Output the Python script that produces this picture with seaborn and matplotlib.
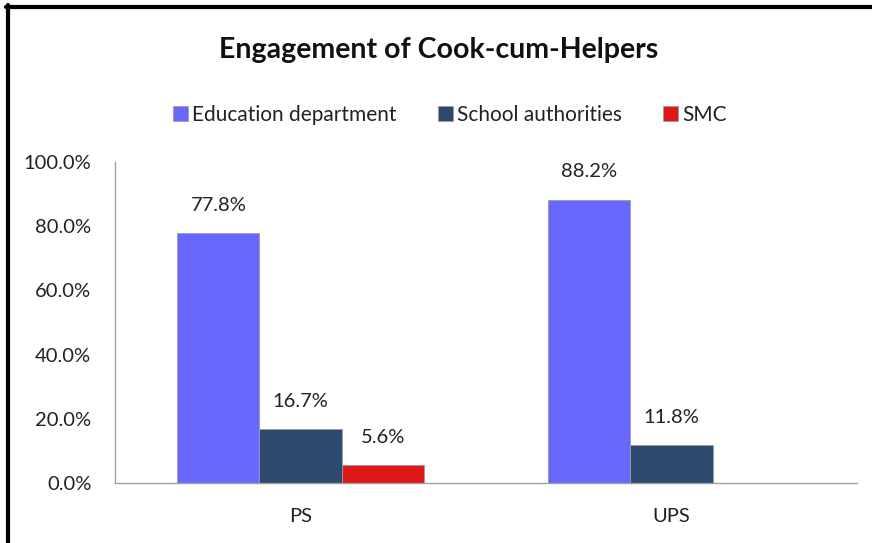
import numpy as np
import pandas as pd
import matplotlib
matplotlib.use("Agg")
import matplotlib.pyplot as plt
from matplotlib.lines import Line2D
import seaborn as sns

# data
schools = ["PS", "PS", "PS", "UPS", "UPS"]
engaged_by = ["Education department", "School authorities", "SMC",
              "Education department", "School authorities"]
share = [0.778, 0.167, 0.056, 0.882, 0.118]
hue_levels = ["Education department", "School authorities", "SMC"]
bar_colors = ["#6868FF", "#2C4A6E", "#E01818"]
yticks = [0.0, 0.2, 0.4, 0.6, 0.8, 1.0]

df = pd.DataFrame({"school": schools, "by": engaged_by, "share": share})

sns.set_theme(style="white")
plt.rcParams["font.family"] = ["Lato", "DejaVu Sans"]

fig = plt.figure(figsize=(8.72, 5.43), dpi=100)
ax = fig.add_axes([115 / 872, 1 - 483 / 543, (857 - 115) / 872, (483 - 162) / 543])

sns.barplot(data=df, x="school", y="share", hue="by", hue_order=hue_levels,
            palette=bar_colors, width=0.664, saturation=1, ax=ax,
            edgecolor="#9a9ab0", linewidth=0.6)

for cont in ax.containers:
    labels = [f"{v * 100:.1f}%" for v in cont.datavalues]
    ax.bar_label(cont, labels=labels, padding=14, fontsize=14.5, color="#222222")

ax.set_xlim(-0.5, 1.5)
ax.set_ylim(0, 1)
ax.set_yticks(yticks)
ax.set_yticklabels([f"{t * 100:.1f}%" for t in yticks], fontsize=14.5, color="#222222")
ax.tick_params(axis="x", labelsize=14.5, colors="#222222", pad=18, length=0)
ax.tick_params(axis="y", pad=17, length=0)
ax.set_xlabel("")
ax.set_ylabel("")
for s in ["top", "right"]:
    ax.spines[s].set_visible(False)
for s in ["left", "bottom"]:
    ax.spines[s].set_color("#a0a0a0")
    ax.spines[s].set_linewidth(1.0)

ax.legend(loc="center", bbox_to_anchor=(450 / 872, 1 - 115 / 543),
          bbox_transform=fig.transFigure, ncol=3, frameon=False,
          fontsize=15, handlelength=0.7, handleheight=0.7, handletextpad=0.2,
          columnspacing=2.0, labelcolor="#222222")

fig.text(439 / 872, 1 - 50 / 543, "Engagement of Cook-cum-Helpers",
         ha="center", va="center", fontsize=20.5, fontweight="bold", color="#111111")

# black frame on top and left edge
fig.add_artist(Line2D([8 / 872, 8 / 872], [0, 1 - 5 / 543], transform=fig.transFigure,
                      color="black", linewidth=3))
fig.add_artist(Line2D([6 / 872, 1], [1 - 7 / 543, 1 - 7 / 543], transform=fig.transFigure,
                      color="black", linewidth=3))

fig.savefig("out.png", dpi=100)
